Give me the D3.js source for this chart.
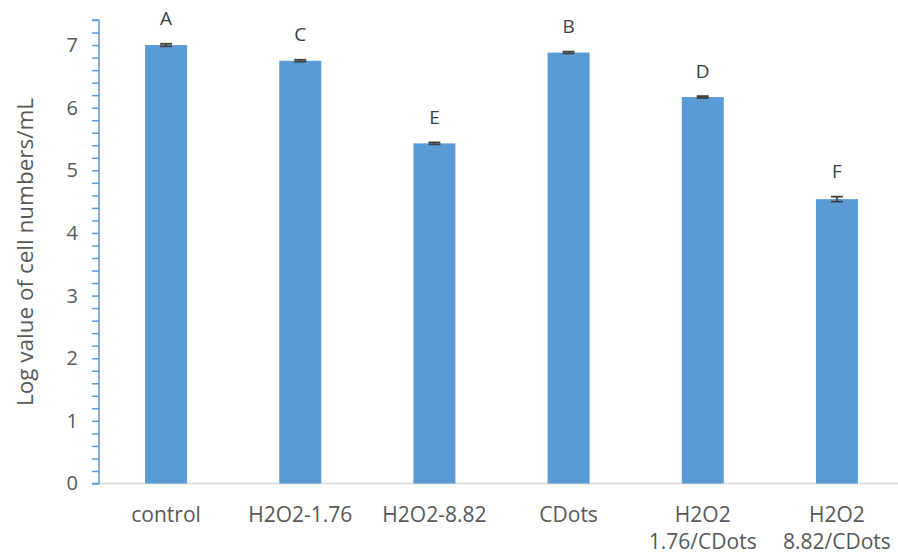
<!DOCTYPE html>
<html>
<head>
<meta charset="utf-8">
<script src="https://cdn.jsdelivr.net/npm/d3@7/dist/d3.min.js"></script>
<style>
  html, body { margin: 0; padding: 0; background: #fff; }
  svg text { font-family: "Open Sans", Lato, sans-serif; }
</style>
</head>
<body>
<svg id="chart" width="898" height="554"></svg>
<script>
// Treatment groups (each label may wrap onto two lines)
const categories = ["control", "H2O2-1.76", "H2O2-8.82", "CDots", "H2O2 1.76/CDots", "H2O2 8.82/CDots"];
const labelLines = [["control"], ["H2O2-1.76"], ["H2O2-8.82"], ["CDots"], ["H2O2", "1.76/CDots"], ["H2O2", "8.82/CDots"]];
// Mean log cell counts and their standard errors
const values = [7.00, 6.75, 5.43, 6.88, 6.17, 4.54];
const errors = [0.02, 0.015, 0.015, 0.015, 0.015, 0.04];
// Significance letters
const letters = ["A", "C", "E", "B", "D", "F"];
const yTicks = [0, 1, 2, 3, 4, 5, 6, 7];

const svg = d3.select("#chart");
const x0 = 99, x1 = 904, yBase = 483.5, yTop = 20;

const x = d3.scaleBand().domain(categories).range([x0, x1]).paddingInner(0.687).paddingOuter(0.3435);
const y = d3.scaleLinear().domain([0, 7.4]).range([yBase, yTop]);

// Horizontal baseline
svg.append("line")
  .attr("x1", x0).attr("x2", 898)
  .attr("y1", yBase).attr("y2", yBase)
  .attr("stroke", "#d9d9d9").attr("stroke-width", 1.5);

// Bars
svg.selectAll("rect.bar").data(values).join("rect")
  .attr("class", "bar")
  .attr("x", (d, i) => x(categories[i]))
  .attr("y", d => y(d))
  .attr("width", x.bandwidth())
  .attr("height", d => yBase - y(d))
  .attr("fill", "#5b9bd5");

// Error bars
const eb = svg.append("g").attr("stroke", "#404040").attr("stroke-width", 1.8);
values.forEach((v, i) => {
  const cx = x(categories[i]) + x.bandwidth() / 2;
  const hi = y(v + errors[i]), lo = y(v - errors[i]);
  eb.append("line").attr("x1", cx).attr("x2", cx).attr("y1", hi).attr("y2", lo);
  eb.append("line").attr("x1", cx - 6).attr("x2", cx + 6).attr("y1", hi).attr("y2", hi);
  eb.append("line").attr("x1", cx - 6).attr("x2", cx + 6).attr("y1", lo).attr("y2", lo);
});

// Significance letters
svg.selectAll("text.letter").data(letters).join("text")
  .attr("class", "letter")
  .attr("x", (d, i) => x(categories[i]) + x.bandwidth() / 2)
  .attr("y", (d, i) => y(values[i] + errors[i]) - 18.5)
  .attr("text-anchor", "middle")
  .attr("font-size", 19)
  .attr("fill", "#404040")
  .text(d => d);

// Y axis with minor ticks every 0.2
const yAxisG = svg.append("g").attr("transform", `translate(${x0},0)`);
yAxisG.call(d3.axisLeft(y).tickValues(d3.range(0, 7.41, 0.2)).tickSize(7).tickFormat(""));
yAxisG.call(g => g.select(".domain").attr("stroke", "#5b9bd5").attr("stroke-width", 1.5).attr("d", `M-7,${yBase}H0V${yTop}H-7`));
yAxisG.selectAll(".tick line").attr("stroke", "#5b9bd5").attr("stroke-width", 1.5);

const yLabels = svg.append("g").attr("transform", `translate(${x0},0)`);
yLabels.call(d3.axisLeft(y).tickValues(yTicks).tickSize(0).tickPadding(21).tickFormat(d3.format("d")));
yLabels.select(".domain").remove();
yLabels.selectAll("text").attr("font-size", 20).attr("fill", "#595959")
  .attr("font-family", "'Open Sans', Lato, sans-serif");

// Category labels
const xl = svg.append("g");
labelLines.forEach((lines, i) => {
  const t = xl.append("text")
    .attr("x", x(categories[i]) + x.bandwidth() / 2)
    .attr("y", 522)
    .attr("text-anchor", "middle")
    .attr("font-size", 21)
    .attr("fill", "#595959");
  lines.forEach((ln, j) => t.append("tspan")
    .attr("x", x(categories[i]) + x.bandwidth() / 2)
    .attr("dy", j === 0 ? 0 : 27)
    .text(ln));
});

// Y axis title
svg.append("text")
  .attr("transform", "translate(33,252) rotate(-90)")
  .attr("text-anchor", "middle")
  .attr("font-size", 22.5)
  .attr("fill", "#595959")
  .text("Log value of cell numbers/mL");
</script>
</body>
</html>
